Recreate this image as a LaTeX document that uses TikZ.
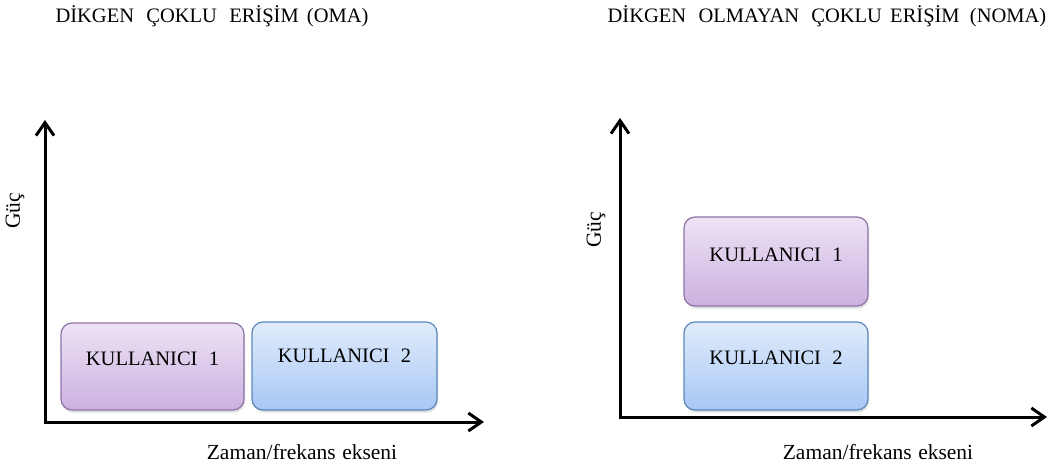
\documentclass[tikz,border=0pt]{standalone}
\usepackage{fontspec}
\setmainfont{Liberation Serif}
\usetikzlibrary{arrows.meta,shadows}
\definecolor{purpTop}{HTML}{EDE3F5}
\definecolor{purpBot}{HTML}{CBB1DF}
\definecolor{purpLine}{HTML}{8E72A8}
\definecolor{blueTop}{HTML}{E0ECFB}
\definecolor{blueBot}{HTML}{A7C7F4}
\definecolor{blueLine}{HTML}{5B88BB}
\tikzset{
  axis/.style={line width=3pt,-{Straight Barb[length=13pt,width=18pt,line width=3pt]}},
  userbox/.style={rounded corners=11pt,line width=1.2pt,minimum width=#1,
    drop shadow={opacity=0.25,shadow xshift=1pt,shadow yshift=-2.5pt},
    font=\fontsize{20.5}{24}\selectfont},
  purplebox/.style={userbox=#1,draw=purpLine,top color=purpTop,bottom color=purpBot},
  bluebox/.style={userbox=#1,draw=blueLine,top color=blueTop,bottom color=blueBot},
  title/.style={font=\fontsize{20.5}{24}\selectfont},
  axlabel/.style={font=\fontsize{21.5}{25}\selectfont},
}
\begin{document}
\begin{tikzpicture}[x=1pt,y=-1pt]
\useasboundingbox (0,0) rectangle (1063,467);

% titles
\node[title] (t1) at (212,16) {DİKGEN\hspace{0.6em}ÇOKLU\hspace{0.6em}ERİŞİM\hspace{0.4em}(OMA)};
\node[title] (t2) at (827,16) {DİKGEN\hspace{0.6em}OLMAYAN\hspace{0.6em}ÇOKLU\hspace{0.4em}ERİŞİM\hspace{0.5em}(NOMA)};

% left diagram: axes
\coordinate (o1) at (45,422);
\coordinate (y1) at (45,120);
\coordinate (x1) at (484,422);
\draw[axis] (o1 |- 0,423.5) -- (y1);
\draw[axis] (43.5,422) -- (x1);
\node[axlabel,rotate=90] (g1) at (15,211) {Güç};
\node[axlabel] (z1) at (302,452) {Zaman/frekans\hspace{0.3em}ekseni};

% left diagram: users side by side
\node[purplebox=183pt,minimum height=87pt] (a1) at (152.5,366.5) {\raisebox{15pt}{KULLANICI\hspace{0.55em}1}};
\node[bluebox=185pt,minimum height=88pt] (a2) at (344.5,366) {\raisebox{21pt}{KULLANICI\hspace{0.55em}2}};

% right diagram: axes
\coordinate (o2) at (620,417);
\coordinate (y2) at (620,118);
\coordinate (x2) at (1047,417);
\draw[axis] (620,418.5) -- (y2);
\draw[axis] (618.5,417) -- (x2);
\node[axlabel,rotate=90] (g2) at (596,230) {Güç};
\node[axlabel] (z2) at (878,452) {Zaman/frekans\hspace{0.3em}ekseni};

% right diagram: users stacked in power
\node[purplebox=184pt,minimum height=89pt] (b1) at (776,261.5) {\raisebox{14pt}{KULLANICI\hspace{0.55em}1}};
\node[bluebox=184pt,minimum height=88pt] (b2) at (776,366) {\raisebox{16pt}{KULLANICI\hspace{0.55em}2}};
\end{tikzpicture}
\end{document}
